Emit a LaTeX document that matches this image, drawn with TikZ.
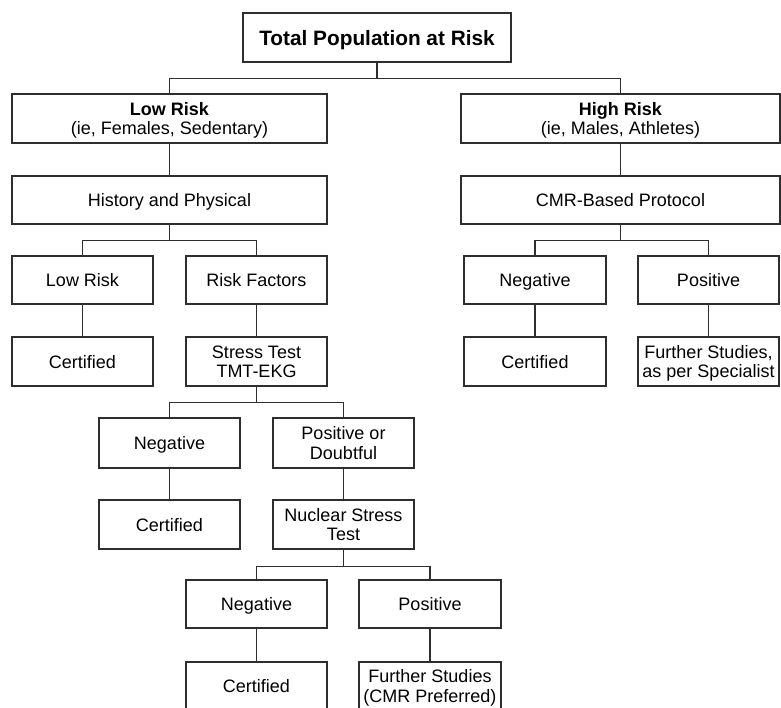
\documentclass[tikz,border=0pt]{standalone}
\usepackage{fontspec}
\setmainfont{Liberation Sans}
\usetikzlibrary{calc}
\definecolor{ln}{HTML}{2E2E2E}
\tikzset{
  box/.style={draw=ln, line width=1.4pt, rectangle, align=center, inner sep=0pt,
    font=\fontsize{18}{19.5}\selectfont, text=black, minimum height=49pt, text depth=0pt},
  conn/.style={draw=ln, line width=1.4pt},
}
\begin{document}
\begin{tikzpicture}[x=1pt,y=-1pt]
\path[use as bounding box] (0,0) rectangle (781,707);
\clip (0,0) rectangle (781,707);
% top
\node[box, minimum width=268pt, font=\fontsize{20.8}{22}\selectfont\bfseries] (top) at (377,37.5) {Total Population at Risk};
% level 1
\node[box, minimum width=315pt] (low) at (169.5,118.5) {\textbf{Low Risk}\\(ie, Females, Sedentary)};
\node[box, minimum width=319pt] (high) at (620.5,118.5) {\textbf{High Risk}\\(ie, Males, Athletes)};
% level 2
\node[box, minimum width=315pt, minimum height=48pt] (hist) at (169.5,200) {History and Physical};
\node[box, minimum width=319pt, minimum height=48pt] (cmr) at (620.5,200) {CMR-Based Protocol};
% level 3 left
\node[box, minimum width=141pt, minimum height=48pt] (lr) at (82.5,280) {Low Risk};
\node[box, minimum width=141pt, minimum height=48pt] (rf) at (256.5,280) {Risk Factors};
\node[box, minimum width=141pt] (cert1) at (82.5,361.5) {Certified};
\node[box, minimum width=141pt] (st) at (256.5,361.5) {Stress Test\\TMT-EKG};
% level 3 right
\node[box, minimum width=142pt, minimum height=48pt] (rneg) at (535,280) {Negative};
\node[box, minimum width=141pt, minimum height=48pt] (rpos) at (708.5,280) {Positive};
\node[box, minimum width=142pt] (rcert) at (535,361.5) {Certified};
\node[box, minimum width=141pt] (rfs) at (708.5,361.5) {Further Studies,\\as per Specialist};
% level 4
\node[box, minimum width=141pt, minimum height=50pt] (neg1) at (169.5,443) {Negative};
\node[box, minimum width=141pt, minimum height=50pt] (pos1) at (343.5,443) {Positive or\\Doubtful};
\node[box, minimum width=141pt] (cert2) at (169.5,524.5) {Certified};
\node[box, minimum width=141pt] (nst) at (343.5,524.5) {Nuclear Stress\\Test};
% level 5
\node[box, minimum width=141pt, minimum height=48pt] (neg2) at (256.5,604) {Negative};
\node[box, minimum width=142pt, minimum height=48pt] (pos2) at (430,604) {Positive};
\node[box, minimum width=141pt, minimum height=48pt] (cert3) at (256.5,686) {Certified};
\node[box, minimum width=142pt, minimum height=48pt] (fs2) at (430,686) {Further Studies\\(CMR Preferred)};
% connectors
\draw[conn] (top.south) -- ++(0,16) coordinate (b0) -| (low.north);
\draw[conn] (b0) -| (high.north);
\draw[conn] (low.south) -- (hist.north);
\draw[conn] (high.south) -- (cmr.north);
\draw[conn] (hist.south) -- ++(0,16) coordinate (b1) -| (lr.north);
\draw[conn] (b1) -| (rf.north);
\draw[conn] (lr.south) -- (cert1.north);
\draw[conn] (rf.south) -- (st.north);
\draw[conn] (cmr.south) -- ++(0,16) coordinate (b2) -| (rneg.north);
\draw[conn] (b2) -| (rpos.north);
\draw[conn] (rneg.south) -- (rcert.north);
\draw[conn] (rpos.south) -- (rfs.north);
\draw[conn] (st.south) -- ++(0,16) coordinate (b3) -| (neg1.north);
\draw[conn] (b3) -| (pos1.north);
\draw[conn] (neg1.south) -- (cert2.north);
\draw[conn] (pos1.south) -- (nst.north);
\draw[conn] (nst.south) -- ++(0,16.5) coordinate (b4) -| (neg2.north);
\draw[conn] (b4) -| (pos2.north);
\draw[conn] (neg2.south) -- (cert3.north);
\draw[conn] (pos2.south) -- (fs2.north);
\end{tikzpicture}
\end{document}
